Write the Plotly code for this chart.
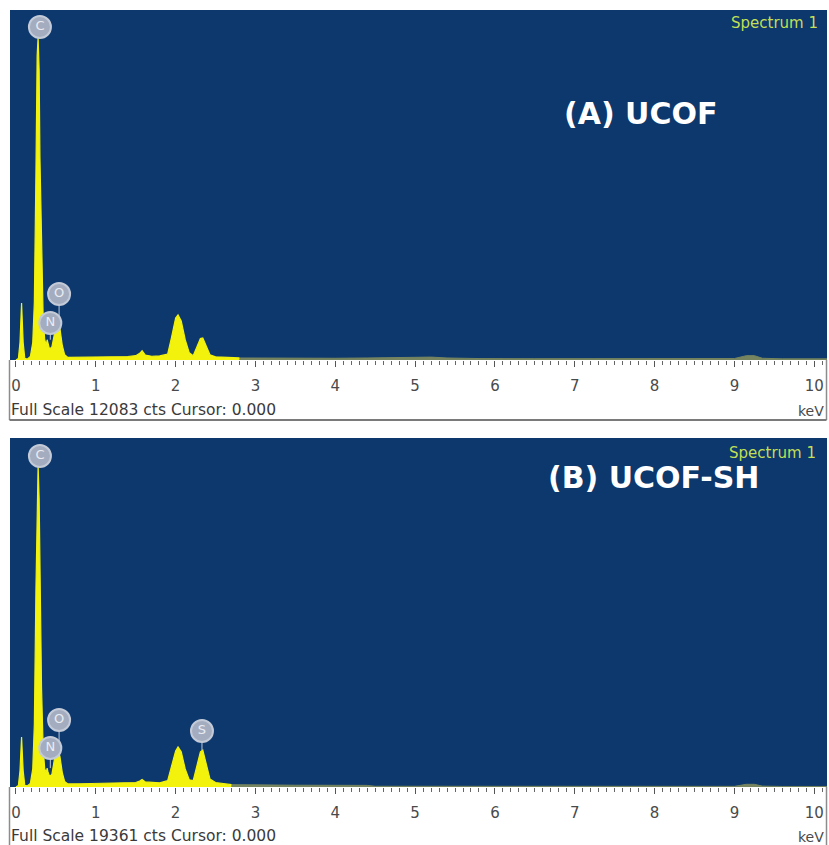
import plotly.graph_objects as go

# ---------------- data ----------------
# Panel A: UCOF, full scale 12083 counts
energy_a = [0.0, 0.03, 0.05, 0.07, 0.09, 0.11, 0.14, 0.18, 0.21, 0.23, 0.25, 0.265, 0.277,
            0.29, 0.30, 0.32, 0.34, 0.36, 0.38, 0.39, 0.40, 0.42, 0.45, 0.48, 0.51, 0.525,
            0.55, 0.58, 0.61, 0.65, 0.8, 1.0, 1.2, 1.4, 1.5, 1.55, 1.58, 1.62, 1.7, 1.8,
            1.9, 1.95, 2.0, 2.03, 2.07, 2.12, 2.17, 2.22, 2.27, 2.31, 2.34, 2.38, 2.43,
            2.5, 2.6, 2.7, 2.8]
counts_a = [0, 50, 600, 1970, 600, 60, 30, 120, 600, 2000, 6500, 10500, 11150,
            10000, 7000, 3500, 1500, 700, 500, 700, 560, 380, 450, 900, 1300, 1385,
            1100, 500, 180, 90, 90, 100, 110, 120, 150, 230, 320, 170, 130, 140,
            200, 800, 1450, 1560, 1350, 700, 250, 150, 450, 740, 760, 500, 180,
            110, 90, 80, 70]
tail_energy_a = [2.8, 3.2, 3.6, 4.0, 4.4, 4.8, 5.0, 5.2, 5.4, 5.8, 6.5, 7.5, 8.5, 9.0,
                 9.15, 9.25, 9.35, 9.6, 10.2]
tail_counts_a = [70, 60, 55, 60, 70, 90, 110, 100, 70, 50, 45, 40, 40, 50,
                 150, 150, 60, 40, 40]

# Panel B: UCOF-SH, full scale 19361 counts
energy_b = [0.0, 0.03, 0.05, 0.07, 0.09, 0.11, 0.14, 0.18, 0.21, 0.23, 0.25, 0.265, 0.277,
            0.29, 0.30, 0.32, 0.34, 0.36, 0.38, 0.39, 0.40, 0.42, 0.45, 0.48, 0.51, 0.525,
            0.55, 0.58, 0.61, 0.65, 0.8, 1.0, 1.2, 1.4, 1.5, 1.55, 1.58, 1.62, 1.7, 1.8,
            1.9, 1.95, 2.0, 2.03, 2.07, 2.12, 2.17, 2.22, 2.27, 2.31, 2.34, 2.38, 2.43,
            2.5, 2.6, 2.7]
counts_b = [0, 80, 900, 2770, 900, 100, 60, 200, 1000, 3500, 11000, 16800, 17860,
            16000, 11000, 5500, 2200, 1000, 800, 1050, 850, 600, 700, 1500, 2000, 2050,
            1700, 800, 300, 170, 180, 190, 200, 210, 250, 330, 420, 280, 240, 230,
            350, 1200, 2000, 2220, 1950, 1000, 400, 350, 1300, 1950, 2050, 1400, 450,
            250, 180, 130]
tail_energy_b = [2.7, 3.0, 3.5, 4.0, 4.4, 4.5, 5.0, 6.0, 7.0, 8.0, 9.0, 9.15, 9.25,
                 9.35, 9.6, 10.2]
tail_counts_b = [130, 110, 100, 95, 90, 40, 35, 30, 30, 30, 35, 150, 150, 50, 30, 30]

full_scale_a = 12083
full_scale_b = 19361

tick_values = [0, 1, 2, 3, 4, 5, 6, 7, 8, 9, 10]

# element markers: symbol, marker energy, marker height, stem bottom
labels_a = ["C", "N", "O"]
label_x_a = [0.30, 0.43, 0.54]
label_y_a = [11496, 1277, 2279]
stem_y_a = [11150, 700, 1385]

labels_b = ["C", "N", "O", "S"]
label_x_b = [0.30, 0.43, 0.54, 2.33]
label_y_b = [18362, 2164, 3717, 3107]
stem_y_b = [17860, 1050, 2050, 2050]

# ---------------- figure ----------------
W, H = 829, 845
BG = "#0c386d"
YELLOW = "#f2f20c"
TAIL = "#76855f"
LABEL_FILL = "#a4adbf"
LABEL_EDGE = "#c3cad8"


def px_x(p):
    return p / W


def px_y(p):
    return 1 - p / H


fig = go.Figure()


def add_panel(xa, ya, e, c, te, tc, names, lx, ly, sy):
    fig.add_trace(go.Scatter(x=te, y=tc, mode="lines", fill="tozeroy",
                             line=dict(color=TAIL, width=1), fillcolor=TAIL,
                             xaxis=xa, yaxis=ya, hoverinfo="skip"))
    fig.add_trace(go.Scatter(x=e, y=c, mode="lines", fill="tozeroy",
                             line=dict(color=YELLOW, width=1.2), fillcolor=YELLOW,
                             xaxis=xa, yaxis=ya, hoverinfo="skip"))
    for x0, y0, y1 in zip(lx, ly, sy):
        fig.add_trace(go.Scatter(x=[x0, x0], y=[y0, y1], mode="lines",
                                 line=dict(color=LABEL_EDGE, width=1),
                                 xaxis=xa, yaxis=ya, hoverinfo="skip"))
    fig.add_trace(go.Scatter(x=lx, y=ly, mode="markers+text", text=names,
                             textposition="middle center",
                             textfont=dict(family="DejaVu Sans", size=13, color="#e9ecf3"),
                             marker=dict(size=22, color=LABEL_FILL,
                                         line=dict(color=LABEL_EDGE, width=2)),
                             xaxis=xa, yaxis=ya, hoverinfo="skip"))


add_panel("x", "y", energy_a, counts_a, tail_energy_a, tail_counts_a,
          labels_a, label_x_a, label_y_a, stem_y_a)
add_panel("x2", "y2", energy_b, counts_b, tail_energy_b, tail_counts_b,
          labels_b, label_x_b, label_y_b, stem_y_b)

xrange = [-0.075, 10.16]
xaxis_common = dict(range=xrange, tickvals=tick_values, ticks="outside", ticklen=6,
                    tickwidth=1, tickcolor="#555555", showgrid=False, zeroline=False,
                    showline=False, ticklabelstandoff=6,
                    tickfont=dict(family="DejaVu Sans", size=15, color="#4a4a4a"),
                    minor=dict(ticks="outside", dtick=0.1, ticklen=4, tickwidth=1,
                               tickcolor="#666666", showgrid=False),
                    fixedrange=True)

top_plot = (10, 360)
bot_plot = (438, 787)

fig.update_layout(
    width=W, height=H, margin=dict(l=0, r=0, t=0, b=0),
    paper_bgcolor="white", plot_bgcolor=BG, showlegend=False,
    xaxis=dict(domain=[px_x(10), px_x(827)], anchor="y", **xaxis_common),
    yaxis=dict(domain=[px_y(top_plot[1]), px_y(top_plot[0])], range=[0, full_scale_a],
               visible=False, anchor="x"),
    xaxis2=dict(domain=[px_x(10), px_x(827)], anchor="y2", **xaxis_common),
    yaxis2=dict(domain=[px_y(bot_plot[1]), px_y(bot_plot[0])], range=[0, full_scale_b],
                visible=False, anchor="x2"),
)

# white axis strips with a thin frame
frame = dict(color="#8c8c8c", width=1.5)
for y_top, y_bot in [(360, 420), (787, 846)]:
    fig.add_shape(type="line", xref="paper", yref="paper", x0=px_x(9.5), x1=px_x(9.5),
                  y0=px_y(y_top), y1=px_y(y_bot), line=frame)
    fig.add_shape(type="line", xref="paper", yref="paper", x0=px_x(826.5), x1=px_x(826.5),
                  y0=px_y(y_top), y1=px_y(y_bot), line=frame)
fig.add_shape(type="line", xref="paper", yref="paper", x0=px_x(9.5), x1=px_x(826.5),
              y0=px_y(420), y1=px_y(420), line=dict(color="#7a7a7a", width=2))

notes = [
    ("Spectrum 1", 820, 23, "right", 15, "#c2df55", False),
    ("Spectrum 1", 818, 453, "right", 15, "#c2df55", False),
    ("Full Scale %d cts Cursor: 0.000" % full_scale_a, 9, 410, "left", 15.5, "#3a3a3a", False),
    ("Full Scale %d cts Cursor: 0.000" % full_scale_b, 9, 836, "left", 15.5, "#3a3a3a", False),
    ("keV", 826, 411, "right", 14, "#4a4a4a", False),
    ("keV", 826, 837, "right", 14, "#4a4a4a", False),
    ("(A) UCOF", 640, 113, "center", 30, "white", True),
    ("(B) UCOF-SH", 653, 477, "center", 30, "white", True),
]
for text, x, y, anchor, size, color, bold in notes:
    fig.add_annotation(text="<b>%s</b>" % text if bold else text,
                       x=px_x(x), y=px_y(y), xref="paper", yref="paper",
                       xanchor=anchor, yanchor="middle", showarrow=False,
                       font=dict(family="DejaVu Sans", size=size, color=color))

fig.write_html("out.html")
